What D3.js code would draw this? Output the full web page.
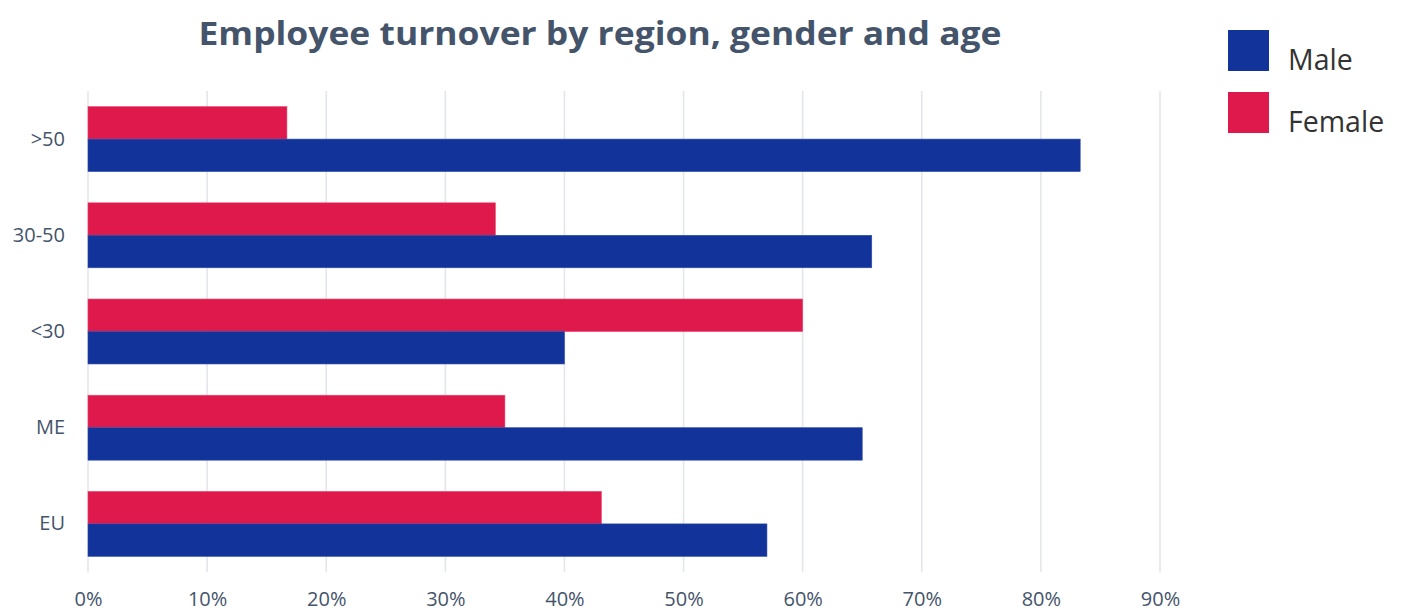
<!DOCTYPE html>
<html><head><meta charset="utf-8">
<script src="https://cdn.jsdelivr.net/npm/d3@7"></script>
<style>body{margin:0;background:#fff;}svg{display:block;}</style>
</head><body>
<svg id="c" width="1402" height="615"></svg>
<script>
const categories = [">50", "30-50", "<30", "ME", "EU"];
const series = ["Female", "Male"];
const femaleValues = [0.167, 0.342, 0.600, 0.350, 0.431];
const maleValues = [0.833, 0.658, 0.400, 0.650, 0.570];
const xTicks = [0, 0.1, 0.2, 0.3, 0.4, 0.5, 0.6, 0.7, 0.8, 0.9];
const legendItems = ["Male", "Female"];
const colors = {Male: "#12339A", Female: "#E0194C"};
const title = "Employee turnover by region, gender and age";

const svg = d3.select("#c");
const x = d3.scaleLinear().domain([0, 0.9]).range([88, 1160]);
const y = d3.scaleBand().domain(categories).range([91, 572]).paddingInner(0.325).paddingOuter(0.1625);
const ySub = d3.scaleBand().domain(series).range([0, y.bandwidth()]);

// gridlines
svg.append("g").selectAll("line").data(xTicks).join("line")
  .attr("x1", d => x(d)).attr("x2", d => x(d))
  .attr("y1", 91).attr("y2", 572)
  .attr("stroke", "#E2E5EB").attr("stroke-width", 1.5);

const data = categories.map((c, i) => ({cat: c, Female: femaleValues[i], Male: maleValues[i]}));
const g = svg.append("g");
data.forEach(d => {
  series.forEach(s => {
    g.append("rect")
      .attr("x", x(0))
      .attr("y", y(d.cat) + ySub(s))
      .attr("width", x(d[s]) - x(0))
      .attr("height", ySub.bandwidth())
      .attr("fill", colors[s])
      .attr("stroke", s === "Male" ? "#2B4BAE" : "#E8416B")
      .attr("stroke-width", 0.6);
  });
});

// x axis labels
const xAxis = d3.axisBottom(x).tickValues(xTicks).tickFormat(d3.format(".0%")).tickSize(0).tickPadding(0);
const xa = svg.append("g").attr("transform", "translate(0,592)").call(xAxis);
xa.select(".domain").remove();
xa.selectAll("text").attr("font-family", "Open Sans").attr("font-size", 20).attr("fill", "#44546A").attr("dy", "0.71em");

// y axis labels
const yAxis = d3.axisLeft(y).tickSize(0).tickPadding(0);
const ya = svg.append("g").attr("transform", "translate(65,0)").call(yAxis);
ya.select(".domain").remove();
ya.selectAll("text").attr("font-family", "Open Sans").attr("font-size", 20).attr("fill", "#44546A");

// title
svg.append("text").attr("x", 600).attr("y", 45).attr("text-anchor", "middle")
  .attr("font-family", "Open Sans").attr("font-weight", "bold").attr("font-size", 33)
  .attr("textLength", 803).attr("lengthAdjust", "spacingAndGlyphs")
  .attr("fill", "#44546A").text(title);

// legend
const lg = svg.append("g");
legendItems.forEach((s, i) => {
  lg.append("rect").attr("x", 1228).attr("y", 30 + i * 62).attr("width", 41).attr("height", 41).attr("fill", colors[s]);
  lg.append("text").attr("x", 1288).attr("y", 70 + i * 62).attr("font-family", "Open Sans")
    .attr("font-size", 28.5).attr("fill", "#333333").text(s);
});
</script>
</body></html>
